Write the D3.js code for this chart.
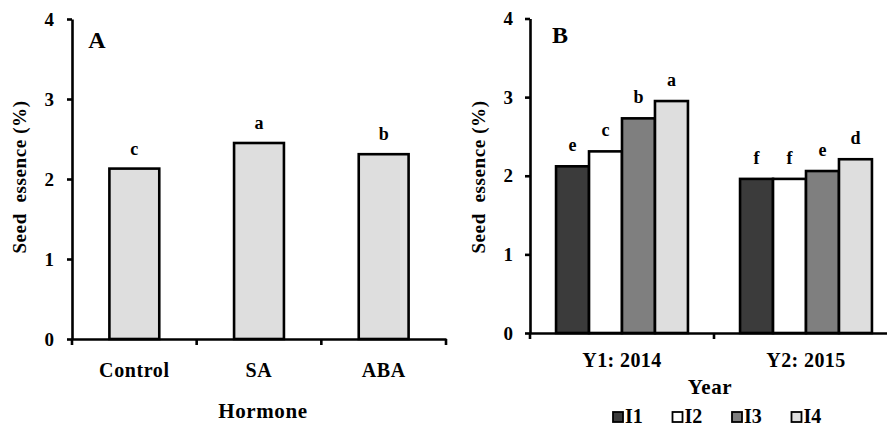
<!DOCTYPE html>
<html>
<head>
<meta charset="utf-8">
<script src="https://cdn.jsdelivr.net/npm/d3@7"></script>
<style>
  body { margin: 0; background: #fff; }
  svg { display: block; }
  .axis path, .axis line { stroke: #000; stroke-width: 2.6; }
  .bar { stroke: #000; stroke-width: 2.6; }
</style>
</head>
<body>
<svg id="chart" width="887" height="428"></svg>
<script>
// panel A data
var hormones = ["Control", "SA", "ABA"];
var hormoneValues = [2.13, 2.45, 2.31];
var hormoneLetters = ["c", "a", "b"];

// panel B data
var years = ["Y1: 2014", "Y2: 2015"];
var levels = ["I1", "I2", "I3", "I4"];
var values2014 = [2.12, 2.31, 2.73, 2.95];
var values2015 = [1.96, 1.96, 2.06, 2.21];
var letters2014 = ["e", "c", "b", "a"];
var letters2015 = ["f", "f", "e", "d"];
var levelColors = ["#3b3b3b", "#ffffff", "#7f7f7f", "#dedede"];

var yTicks = [0, 1, 2, 3, 4];

var FONT = "'Liberation Serif', 'Times New Roman', serif";

// serif bold text helper
function serif(sel, size, spacing) {
    sel.style("font-family", FONT)
       .style("font-weight", "bold")
       .style("font-size", size + "px")
       .style("fill", "#000");
    if (spacing) sel.style("letter-spacing", spacing + "px");
    return sel;
}

var svg = d3.select("#chart");

/* ---------- Panel A ---------- */
var xA = d3.scaleBand()
    .domain(hormones)
    .range([72, 446])
    .paddingInner(0.6)
    .paddingOuter(0.3);
var yA = d3.scaleLinear().domain([0, 4]).range([339, 19]);

var gA = svg.append("g");

gA.selectAll("rect.bar")
    .data(hormones)
    .enter().append("rect")
    .attr("class", "bar")
    .attr("x", function(d) { return xA(d); })
    .attr("y", function(d, i) { return yA(hormoneValues[i]); })
    .attr("width", xA.bandwidth())
    .attr("height", function(d, i) { return yA(0) - yA(hormoneValues[i]); })
    .attr("fill", "#dedede");

serif(gA.selectAll("text.sig")
    .data(hormones)
    .enter().append("text")
    .attr("class", "sig")
    .attr("x", function(d) { return xA(d) + xA.bandwidth() / 2; })
    .attr("y", function(d, i) { return yA(hormoneValues[i]) - 14; })
    .attr("text-anchor", "middle")
    .text(function(d, i) { return hormoneLetters[i]; }), 18);

var ayA = gA.append("g")
    .attr("class", "axis")
    .attr("transform", "translate(72,0)")
    .call(d3.axisLeft(yA).tickValues(yTicks).tickFormat(d3.format("d")).tickSize(5).tickSizeOuter(0).tickPadding(13));
serif(ayA.selectAll("text"), 19);

var axA = gA.append("g")
    .attr("class", "axis")
    .attr("transform", "translate(0," + yA(0) + ")")
    .call(d3.axisBottom(xA).tickSize(0).tickSizeOuter(0).tickPadding(24));
serif(axA.selectAll("text"), 20, 0.6);
// ticks sit on the category boundaries
axA.selectAll("line.bound")
    .data(d3.range(hormones.length + 1))
    .enter().append("line")
    .attr("class", "bound")
    .attr("x1", function(i) { return xA.range()[0] + i * xA.step(); })
    .attr("x2", function(i) { return xA.range()[0] + i * xA.step(); })
    .attr("y1", 0).attr("y2", 6);

serif(gA.append("text")
    .attr("x", 97).attr("y", 48)
    .attr("text-anchor", "middle")
    .text("A"), 24);

serif(gA.append("text")
    .attr("transform", "translate(26,177) rotate(-90)")
    .attr("text-anchor", "middle")
    .style("white-space", "pre")
    .text("Seed  essence (%)"), 19, 0.6);

serif(gA.append("text")
    .attr("x", 263).attr("y", 418)
    .attr("text-anchor", "middle")
    .text("Hormone"), 21, 0.6);

/* ---------- Panel B ---------- */
var x0 = d3.scaleBand().domain(years).range([530, 898]);
var x1 = d3.scaleBand().domain(levels).range([0, x0.bandwidth()]).paddingOuter(0.79);
var yB = d3.scaleLinear().domain([0, 4]).range([333, 18.5]);

var gB = svg.append("g");

var groups = gB.selectAll("g.year")
    .data([values2014, values2015])
    .enter().append("g")
    .attr("class", "year")
    .attr("transform", function(d, i) { return "translate(" + x0(years[i]) + ",0)"; });

groups.selectAll("rect")
    .data(function(d) { return d; })
    .enter().append("rect")
    .attr("class", "bar")
    .attr("x", function(d, i) { return x1(levels[i]); })
    .attr("y", function(d) { return yB(d); })
    .attr("width", x1.bandwidth())
    .attr("height", function(d) { return yB(0) - yB(d); })
    .attr("fill", function(d, i) { return levelColors[i]; });

var sigB = [letters2014, letters2015];
serif(groups.selectAll("text")
    .data(function(d, j) { return d.map(function(v, i) { return { v: v, t: sigB[j][i] }; }); })
    .enter().append("text")
    .attr("x", function(d, i) { return x1(levels[i]) + x1.bandwidth() / 2; })
    .attr("y", function(d) { return yB(d.v) - 15; })
    .attr("text-anchor", "middle")
    .text(function(d) { return d.t; }), 18);

var ayB = gB.append("g")
    .attr("class", "axis")
    .attr("transform", "translate(530,0)")
    .call(d3.axisLeft(yB).tickValues(yTicks).tickFormat(d3.format("d")).tickSize(5).tickSizeOuter(0).tickPadding(12));
serif(ayB.selectAll("text"), 19);

var axB = gB.append("g")
    .attr("class", "axis")
    .attr("transform", "translate(0," + yB(0) + ")")
    .call(d3.axisBottom(x0).tickSize(0).tickSizeOuter(0).tickPadding(20));
serif(axB.selectAll("text"), 20, 0.4);
axB.selectAll("line.bound")
    .data(d3.range(years.length + 1))
    .enter().append("line")
    .attr("class", "bound")
    .attr("x1", function(i) { return x0.range()[0] + i * x0.step(); })
    .attr("x2", function(i) { return x0.range()[0] + i * x0.step(); })
    .attr("y1", 0).attr("y2", 6);

serif(gB.append("text")
    .attr("x", 560).attr("y", 43)
    .attr("text-anchor", "middle")
    .text("B"), 24);

serif(gB.append("text")
    .attr("transform", "translate(485,177) rotate(-90)")
    .attr("text-anchor", "middle")
    .style("white-space", "pre")
    .text("Seed  essence (%)"), 19, 0.6);

serif(gB.append("text")
    .attr("x", 710).attr("y", 394)
    .attr("text-anchor", "middle")
    .text("Year"), 21, 0.6);

// legend
var legend = gB.selectAll("g.legend")
    .data(levels)
    .enter().append("g")
    .attr("class", "legend")
    .attr("transform", function(d, i) { return "translate(" + (613 + i * 59.5) + ",412)"; });
legend.append("rect")
    .attr("width", 10).attr("height", 10)
    .attr("fill", function(d, i) { return levelColors[i]; })
    .attr("stroke", "#000").attr("stroke-width", 1.8);
serif(legend.append("text")
    .attr("x", 12).attr("y", 11)
    .text(function(d) { return d; }), 20);
</script>
</body>
</html>
